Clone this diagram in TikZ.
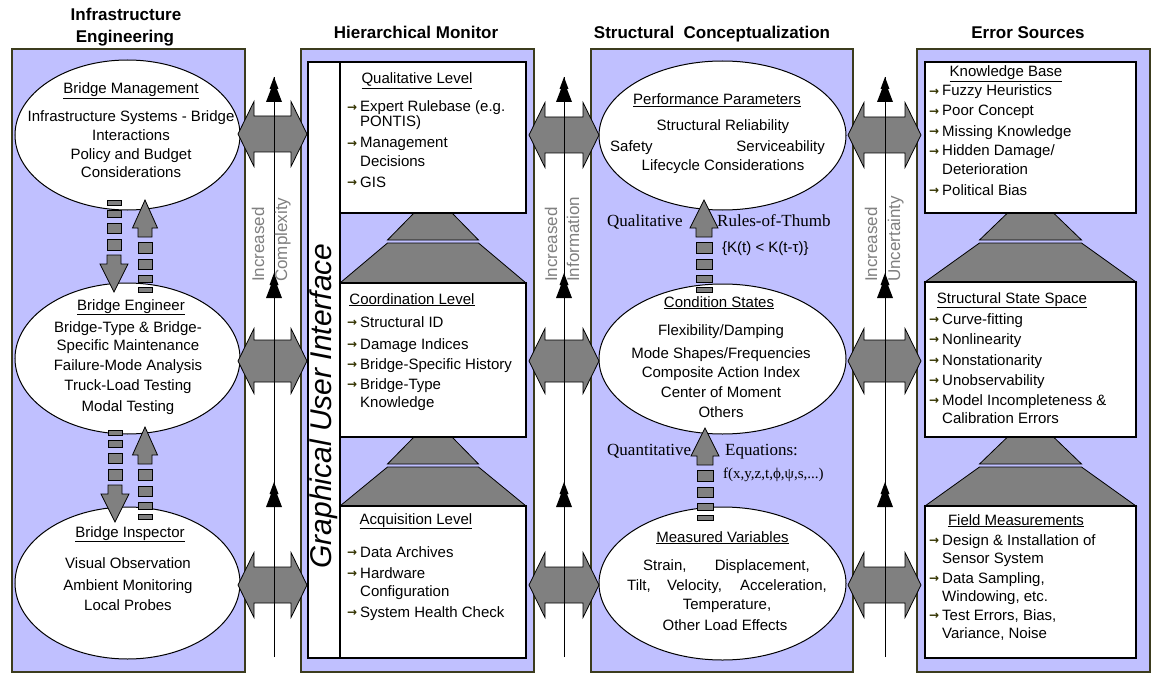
\documentclass[tikz,border=0pt]{standalone}
\usepackage{fontspec}
\setmainfont{Liberation Sans}
\newfontfamily\serifface{Liberation Serif}
\newfontfamily\symface{DejaVu Sans}
\usetikzlibrary{shapes.geometric}

\definecolor{panelfill}{RGB}{192,192,255}
\definecolor{panelline}{RGB}{60,60,30}
\definecolor{blockgray}{RGB}{128,128,128}
\definecolor{labelgray}{RGB}{128,128,128}
\definecolor{bulletcol}{RGB}{51,51,0}

% list bullet and hanging indent
\newcommand\blt{\makebox[13pt][l]{\raisebox{0.5pt}{\symface\bfseries\fontsize{12}{12}\selectfont\textcolor{bulletcol}{→}}}}
\newcommand\ind{\hspace*{13pt}}

\tikzset{
  panel/.style={draw=panelline, line width=1.3pt, fill=panelfill, inner sep=0pt, outer sep=0pt, anchor=north west},
  box/.style={draw=black, line width=1.1pt, fill=white, inner sep=0pt, outer sep=0pt, anchor=north west},
  oval/.style={ellipse, draw=black, line width=1pt, fill=white, inner sep=0pt, outer sep=0pt},
  blockarrow/.style={draw=black, line width=0.8pt, fill=blockgray, line join=miter},
  gapline/.style={draw=black, line width=1pt},
  heading/.style={font=\bfseries\fontsize{17}{20}\selectfont, anchor=base, inner sep=0pt},
  body/.style={font=\fontsize{15}{18}\selectfont, anchor=base, inner sep=0pt},
  itemtext/.style={font=\fontsize{15}{18}\selectfont, anchor=base west, inner sep=0pt},
  seriflabel/.style={font=\serifface\fontsize{17}{20}\selectfont, anchor=base west, inner sep=0pt},
  axislabel/.style={font=\fontsize{17}{20}\selectfont, text=labelgray, rotate=90, anchor=base west, inner sep=0pt},
  guilabel/.style={font=\itshape\fontsize{30}{31}\selectfont, rotate=90, anchor=base, inner sep=0pt}
}

% centred lines: prefix, x, list of baseline/text
\newcommand\clines[3]{\foreach \yy/\tx [count=\i] in {#3} \node[body] (#1\i) at (#2,\yy) {\tx};}
% left aligned lines
\newcommand\llines[3]{\foreach \yy/\tx [count=\i] in {#3} \node[itemtext] (#1\i) at (#2,\yy) {\tx};}

% two-headed block arrow: left tip x, right tip x, centre y, half shaft
\newcommand\dblarrow[4]{%
  \draw[blockarrow] (#1,#3) -- (#1+16,#3-32.5) -- (#1+16,#3-#4) -- (#2-16,#3-#4)
    -- (#2-16,#3-32.5) -- (#2,#3) -- (#2-16,#3+32.5) -- (#2-16,#3+#4)
    -- (#1+16,#3+#4) -- (#1+16,#3+32.5) -- cycle;}

% black two-tier arrow head on the axis lines: x, tip y
\newcommand\treehead[2]{%
  \fill[black] (#1,#2) -- (#1-4.5,#2+12) -- (#1-3,#2+12) -- (#1-8,#2+25)
    -- (#1+8,#2+25) -- (#1+3,#2+12) -- (#1+4.5,#2+12) -- cycle;}

% block arrow with broken shaft pointing up: x, tip y, half head, half shaft
\newcommand\updash[4]{%
  \draw[blockarrow] (#1,#2) -- (#1+#3,#2+28) -- (#1+#4,#2+28) -- (#1+#4,#2+37)
    -- (#1-#4,#2+37) -- (#1-#4,#2+28) -- (#1-#3,#2+28) -- cycle;
  \foreach \p/\q in {42/53,59/69,75/82,87/92}
    \draw[blockarrow] (#1-#4,#2+\p) rectangle (#1+#4,#2+\q);}

% block arrow with broken shaft pointing down: x, tip y, half head, half shaft
\newcommand\downdash[4]{%
  \draw[blockarrow] (#1,#2) -- (#1+#3,#2-28) -- (#1+#4,#2-28) -- (#1+#4,#2-37)
    -- (#1-#4,#2-37) -- (#1-#4,#2-28) -- (#1-#3,#2-28) -- cycle;
  \foreach \p/\q in {42/53,59/69,75/82,87/92}
    \draw[blockarrow] (#1-#4,#2-\p) rectangle (#1+#4,#2-\q);}

% stacked grey trapezoids between level boxes
% cx, y top, half top, y mid, half mid, y bottom, half bottom
\newcommand\pyramid[7]{%
  \draw[blockarrow] (#1-#3,#2) -- (#1+#3,#2) -- (#1+#5,#4) -- (#1-#5,#4) -- cycle;
  \draw[blockarrow] (#1-#5,#4+3) -- (#1+#5,#4+3) -- (#1+#7,#6) -- (#1-#7,#6) -- cycle;}

\begin{document}
\begin{tikzpicture}[x=1pt, y=-1pt]
\useasboundingbox (0,0) rectangle (1151,682);
\fill[white] (0,0) rectangle (1151,682);

% column panels
\node[panel, minimum width=233pt, minimum height=623pt] (pIE) at (12,49) {};
\node[panel, minimum width=233pt, minimum height=623pt] (pHM) at (301,49) {};
\node[panel, minimum width=262pt, minimum height=623pt] (pSC) at (591,49) {};
\node[panel, minimum width=233pt, minimum height=623pt] (pES) at (917,49) {};

% column headings
\node[heading] (hIEa) at (126,21) {Infrastructure};
\node[heading] (hIEb) at (125,43) {Engineering};
\node[heading] (hHM) at (416,39) {Hierarchical Monitor};
\node[heading] (hSC) at (712,39) {Structural\ \ Conceptualization};
\node[heading] (hES) at (1028,39) {Error Sources};

% hierarchical monitor: interface strip, pyramids, level boxes
\node[box, minimum width=32pt, minimum height=596pt] (gui) at (308,62) {};
\pyramid{433}{213}{19}{240}{45.5}{283}{93}
\pyramid{433}{437}{19}{464}{45.5}{506}{93}
\node[box, minimum width=186pt, minimum height=151pt] (qual) at (340,62) {};
\node[box, minimum width=186pt, minimum height=154pt] (coord) at (340,283) {};
\node[box, minimum width=186pt, minimum height=152pt] (acq) at (340,506) {};
\node[guilabel] (guitext) at (331,406) {Graphical User Interface};

% error sources: pyramids and boxes
\pyramid{1030.5}{213}{23}{240}{51}{282}{105.5}
\pyramid{1030.5}{437}{23}{464}{51}{506}{105.5}
\node[box, minimum width=211pt, minimum height=151pt] (kb) at (925,62) {};
\node[box, minimum width=211pt, minimum height=155pt] (sss) at (925,282) {};
\node[box, minimum width=211pt, minimum height=152pt] (fm) at (925,506) {};

% infrastructure engineering ellipses
\node[oval, minimum width=225pt, minimum height=150pt] (bm) at (127.5,135) {};
\node[oval, minimum width=225pt, minimum height=151pt] (be) at (127.5,358.5) {};
\node[oval, minimum width=225pt, minimum height=152pt] (bi) at (127.5,583) {};

% structural conceptualization ellipses
\node[oval, minimum width=247pt, minimum height=149pt] (pp) at (722.5,135.5) {};
\node[oval, minimum width=247pt, minimum height=150pt] (cs) at (722.5,359) {};
\node[oval, minimum width=247pt, minimum height=153pt] (mv) at (722.5,583.5) {};

% ellipse texts
\node[body] (bmT) at (131,94) {\underline{Bridge Management}};
\clines{bmL}{131}{122/{Infrastructure Systems - Bridge}, 140/{Interactions}, 160/{Policy and Budget}, 178/{Considerations}}
\node[body] (beT) at (131,310) {\underline{Bridge Engineer}};
\clines{beL}{128}{332/{Bridge-Type \& Bridge-}, 350/{Specific Maintenance}, 370/{Failure-Mode Analysis}, 390/{Truck-Load Testing}, 411/{Modal Testing}}
\node[body] (biT) at (130,537) {\underline{Bridge Inspector}};
\clines{biL}{128}{568/{Visual Observation}, 590/{Ambient Monitoring}, 610/{Local Probes}}

\node[body] (ppT) at (717,105) {\underline{Performance Parameters}};
\node[body] (ppA) at (723,131) {Structural Reliability};
\node[itemtext] (ppB) at (610,151) {Safety};
\node[body, anchor=base east] (ppC) at (825,151) {Serviceability};
\node[body] (ppD) at (723,171) {Lifecycle Considerations};

\node[body] (csT) at (719,307) {\underline{Condition States}};
\clines{csL}{721}{335/{Flexibility/Damping}, 358/{Mode Shapes/Frequencies}, 377/{Composite Action Index}, 397/{Center of Moment}, 417/{Others}}

\node[body] (mvT) at (722.5,542) {\underline{Measured Variables}};
\node[itemtext] (mvA) at (643,570) {Strain,};
\node[body, anchor=base east] (mvB) at (810,570) {Displacement,};
\node[itemtext] (mvC) at (627,590) {Tilt,};
\node[itemtext] (mvD) at (667,590) {Velocity,};
\node[body, anchor=base east] (mvE) at (827,590) {Acceleration,};
\node[body] (mvF) at (727,609) {Temperature,};
\node[body] (mvG) at (725,630) {Other Load Effects};

% level box texts
\node[body] (qualT) at (417,84) {\underline{Qualitative Level}};
\llines{qualL}{347}{112/{\blt Expert Rulebase (e.g.}, 127/{\ind PONTIS)}, 148/{\blt Management}, 166/{\ind Decisions}, 187/{\blt GIS}}
\node[body] (coordT) at (412,304) {\underline{Coordination Level}};
\llines{coordL}{347}{327/{\blt Structural ID}, 349/{\blt Damage Indices}, 369/{\blt Bridge-Specific History}, 389/{\blt Bridge-Type}, 407/{\ind Knowledge}}
\node[body] (acqT) at (416,524) {\underline{Acquisition Level}};
\llines{acqL}{347}{557/{\blt Data Archives}, 578/{\blt Hardware}, 596/{\ind Configuration}, 617/{\blt System Health Check}}

\node[body] (kbT) at (1006,77) {\underline{Knowledge Base}};
\llines{kbL}{929}{96/{\blt Fuzzy Heuristics}, 116/{\blt Poor Concept}, 136/{\blt Missing Knowledge}, 156/{\blt Hidden Damage/}, 175/{\ind Deterioration}, 195/{\blt Political Bias}}
\node[body] (sssT) at (1012,303) {\underline{Structural State Space}};
\llines{sssL}{929}{324/{\blt Curve-fitting}, 344/{\blt Nonlinearity}, 365/{\blt Nonstationarity}, 385/{\blt Unobservability}, 405/{\blt Model Incompleteness \&}, 423/{\ind Calibration Errors}}
\node[body] (fmT) at (1016,525) {\underline{Field Measurements}};
\llines{fmL}{929}{545/{\blt Design \& Installation of}, 563/{\ind Sensor System}, 583/{\blt Data Sampling,}, 601/{\ind Windowing, etc.}, 620/{\blt Test Errors, Bias,}, 638/{\ind Variance, Noise}}

% two-headed exchange arrows between the columns
\dblarrow{238}{307}{134}{18}
\dblarrow{238}{307}{361}{21}
\dblarrow{238}{307}{585}{18}
\dblarrow{529}{599}{135}{18}
\dblarrow{529}{599}{361}{21}
\dblarrow{529}{599}{585}{18}
\dblarrow{848}{921}{135}{18}
\dblarrow{848}{921}{361}{21}
\dblarrow{848}{921}{585}{18}

% axes in the gaps
\coordinate (g1top) at (274,77);  \coordinate (g1bot) at (274,657);
\coordinate (g2top) at (564,77);  \coordinate (g2bot) at (564,657);
\coordinate (g3top) at (885,77);  \coordinate (g3bot) at (885,657);
\draw[gapline] (g1bot) -- (g1top);
\draw[gapline] (g2bot) -- (g2top);
\draw[gapline] (g3bot) -- (g3top);
\foreach \gx in {274,564,885} {
  \treehead{\gx}{77}
  \treehead{\gx}{273}
  \treehead{\gx}{482}
}
\node[axislabel] (ax1a) at (264,282) {Increased};
\node[axislabel] (ax1b) at (287,282) {Complexity};
\node[axislabel] (ax2a) at (557,282) {Increased};
\node[axislabel] (ax2b) at (579,282) {Information};
\node[axislabel] (ax3a) at (877,282) {Increased};
\node[axislabel] (ax3b) at (900,282) {Uncertainty};

% broken-shaft arrows inside the columns
\updash{145}{200}{12.5}{7}
\downdash{114}{292}{14}{7}
\updash{145}{427}{12.5}{7}
\downdash{115}{522}{14}{7}
\updash{704}{200}{14}{8}
\updash{705}{428}{14}{8}

% labels beside the conceptualization arrows
\node[seriflabel] (qlab) at (607,226) {Qualitative};
\node[seriflabel] (rot) at (717,226) {Rules-of-Thumb};
\node[itemtext, font=\fontsize{15}{18}\selectfont] (kineq) at (722,252) {\{K(t) < K(t-τ)\}};
\node[seriflabel] (qnlab) at (607,455) {Quantitative};
\node[seriflabel] (eqlab) at (725,455) {Equations:};
\node[seriflabel, font=\serifface\fontsize{15}{18}\selectfont] (feq) at (723,478) {f(x,y,z,t,ϕ,ψ,s,...)};

\end{tikzpicture}
\end{document}
